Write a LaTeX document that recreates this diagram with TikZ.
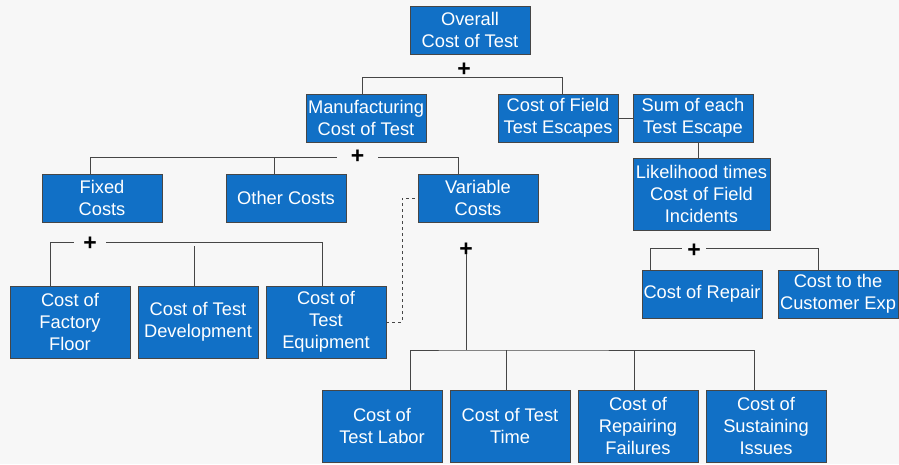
\documentclass[tikz,border=0pt]{standalone}
\usepackage{fontspec}
\setmainfont{Liberation Sans}
\usepackage{xcolor}
\usetikzlibrary{positioning}

\definecolor{boxblue}{RGB}{17,112,198}
\definecolor{linegray}{RGB}{70,70,70}
\definecolor{paper}{RGB}{247,247,247}

\tikzset{
  box/.style={draw=linegray, line width=0.9pt, fill=boxblue, text=white, align=center,
    inner sep=0pt, minimum width=120pt, minimum height=48pt,
    font=\fontsize{18.3}{22}\selectfont},
  tallbox/.style={box, minimum height=72pt},
  link/.style={draw=linegray, line width=1pt},
  plus/.style={inner sep=0pt, font=\bfseries\fontsize{23}{23}\selectfont}
}

\begin{document}
\begin{tikzpicture}[x=1pt, y=-1pt]
\fill[paper] (0,0) rectangle (899,464);
\useasboundingbox (0,0) rectangle (899,464);

% top level
\node[box] (overall) at (470,30) {Overall\\Cost of Test};
\node[plus] (plusT) at (464,70) {+};
\node[box] (manuf) at (366,118) {Manufacturing\\Cost of Test};
\node[box] (field) at (558,118) {Cost of Field\\Test Escapes};
\node[box] (sum) at (693,118) {Sum of each\\Test Escape};
\node[tallbox, minimum width=137pt] (likely) at (701.5,194) {Likelihood times\\Cost of Field\\Incidents};

% manufacturing
\node[plus, minimum width=41pt] (plusM) at (357.5,157) {+};
\node[box] (fixed) at (102,198) {Fixed\\Costs};
\node[box] (other) at (286,198) {Other Costs};
\node[box] (variable) at (478,198) {Variable\\Costs};

% fixed costs
\node[plus, minimum width=32pt] (plusF) at (90,244) {+};
\node[tallbox] (floor) at (70,322) {Cost of\\Factory\\Floor};
\node[tallbox] (devel) at (198,322) {Cost of Test\\Development};
\node[tallbox] (equip) at (326,322) {Cost of\\Test\\Equipment};

% variable costs
\node[plus] (plusV) at (466,250) {+};
\coordinate (busV) at (466,350);
\node[tallbox] (labor) at (382,426) {Cost of\\Test Labor};
\node[tallbox] (time) at (510,426) {Cost of Test\\Time};
\node[tallbox] (repairf) at (638,426) {Cost of\\Repairing\\Failures};
\node[tallbox] (sustain) at (766,426) {Cost of\\Sustaining\\Issues};

% field incidents
\node[plus, minimum width=24pt] (plusL) at (694,251) {+};
\node[box] (repair) at (702,294) {Cost of Repair};
\node[box] (customer) at (838,294) {Cost to the\\Customer Exp};

% connectors
\draw[link] ([xshift=-4pt]manuf.north) -- ++(0,-16) -| ([xshift=4pt]field.north);
\draw[link] (field) -- (sum);
\draw[link] ([xshift=5pt]sum.south) -- ++(0,16);

\draw[link] ([xshift=-12pt]fixed.north) |- (plusM.west);
\draw[link] (plusM.east) -| ([xshift=-20pt]variable.north);
\draw[link] ([xshift=-12pt]other.north) -- ++(0,-16);

\draw[link] ([xshift=-20pt]floor.north) |- ([yshift=2pt]plusF.west);
\draw[link] ([yshift=2pt]plusF.east) -| ([xshift=-4pt]equip.north);
\draw[link] ([xshift=-4pt]devel.north) -- ++(0,-40);
\draw[link, dashed] (equip.east) -- ++(16,0) |- (variable.west);

\draw[link] ([yshift=3pt]plusV.south) -- (busV);
\draw[link] ([xshift=28pt]labor.north) |- (busV) -| ([xshift=-12pt]sustain.north);
\draw[link] ([xshift=-4pt]time.north) -- ++(0,-40);
\draw[link] ([xshift=-4pt]repairf.north) -- ++(0,-40);

\draw[link] ([xshift=-52pt]repair.north) |- ([yshift=3pt]plusL.west);
\draw[link] ([yshift=3pt]plusL.east) -| ([xshift=-20pt]customer.north);
\end{tikzpicture}
\end{document}
